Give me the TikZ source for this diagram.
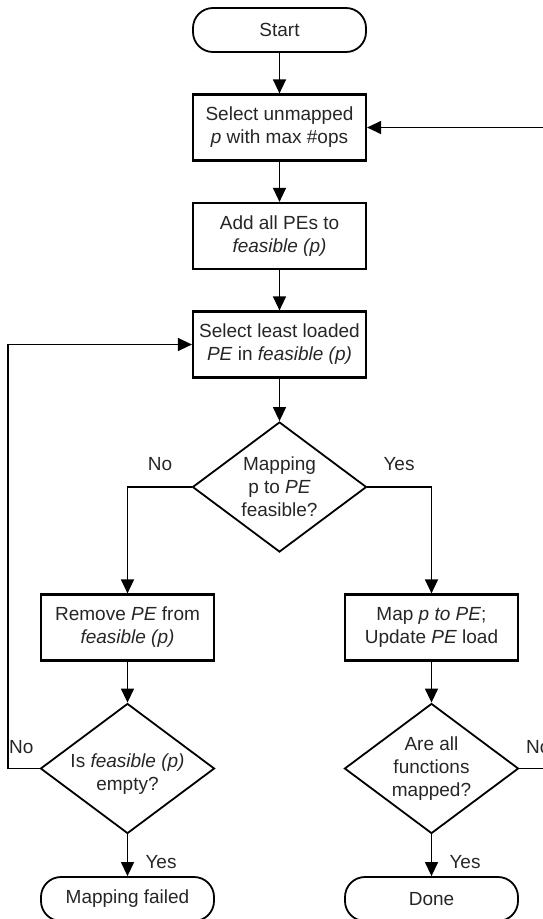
\documentclass[tikz,border=0pt]{standalone}
\usepackage{fontspec}
\setmainfont{Liberation Sans}
\usetikzlibrary{shapes.geometric,arrows.meta}
\newcommand\figfont{\fontsize{19}{23}\selectfont}
\begin{document}
\begin{tikzpicture}[x=1pt,y=-1pt,
  box/.style={draw, line width=2.2pt, minimum width=173pt, minimum height=66pt, inner sep=0pt, align=center, font=\figfont, text=black!85},
  term/.style={draw, line width=1.8pt, rounded corners=20pt, minimum width=173pt, minimum height=44pt, inner sep=0pt, font=\figfont, text=black!85},
  dec/.style={draw, diamond, line width=1.8pt, minimum width=174pt, minimum height=130pt, inner sep=0pt},
  dtext/.style={align=center, font=\figfont, text=black!85, inner sep=0pt},
  conn/.style={line width=1.3pt, -{Triangle[length=14pt,width=13pt]}},
  lab/.style={font=\figfont, inner sep=0pt, text=black!85}
]
\useasboundingbox (0,0) rectangle (542,919);

\node[term] (start) at (279.5,30) {Start};
\node[box] (s1) at (279.5,127.5) {Select unmapped\\\textit{p} with max \#ops};
\node[box] (s2) at (279.5,236) {Add all PEs to\\\textit{feasible (p)}};
\node[box] (s3) at (279.5,344.5) {Select least loaded\\\textit{PE} in \textit{feasible (p)}};
\node[dec, label={[dtext]center:Mapping\\ p to \textit{PE}\\feasible?}] (d1) at (279.5,487) {};
\node[box] (rm) at (127.5,627.5) {Remove \textit{PE} from\\\textit{feasible (p)}};
\node[box] (mp) at (431.5,627.5) {Map \textit{p to PE};\\Update \textit{PE} load};
\node[dec, label={[dtext,yshift=-6pt]center:Is \textit{feasible (p)}\\empty?}] (d2) at (127.5,768.5) {};
\node[dec, label={[dtext]center:Are all\\functions\\mapped?}] (d3) at (431.5,768.5) {};
\node[term] (fail) at (127.5,899) {Mapping failed};
\node[term] (done) at (431.5,899) {Done};

\coordinate (lc) at (8,768.5);
\coordinate (rc) at (565,768.5);

\draw[conn] (start) -- (s1);
\draw[conn] (s1) -- (s2);
\draw[conn] (s2) -- (s3);
\draw[conn] (s3) -- (d1);
\draw[conn] (d1.west) -| (rm.north);
\draw[conn] (d1.east) -| (mp.north);
\draw[conn] (rm) -- (d2);
\draw[conn] (mp) -- (d3);
\draw[conn] (d2) -- (fail);
\draw[conn] (d3) -- (done);
\draw[conn] (d2.west) -- (lc) |- (s3.west);
\draw[conn] (d3.east) -- (rc) |- (s1.east);

\node[lab] (no1) at (160,464) {No};
\node[lab] (yes1) at (399,464) {Yes};
\node[lab, anchor=west] (no2) at (9,747) {No};
\node[lab] (yes2) at (161,862) {Yes};
\node[lab] (yes3) at (465,862) {Yes};
\node[lab, anchor=west] (no3) at (526,747) {No};
\end{tikzpicture}
\end{document}
